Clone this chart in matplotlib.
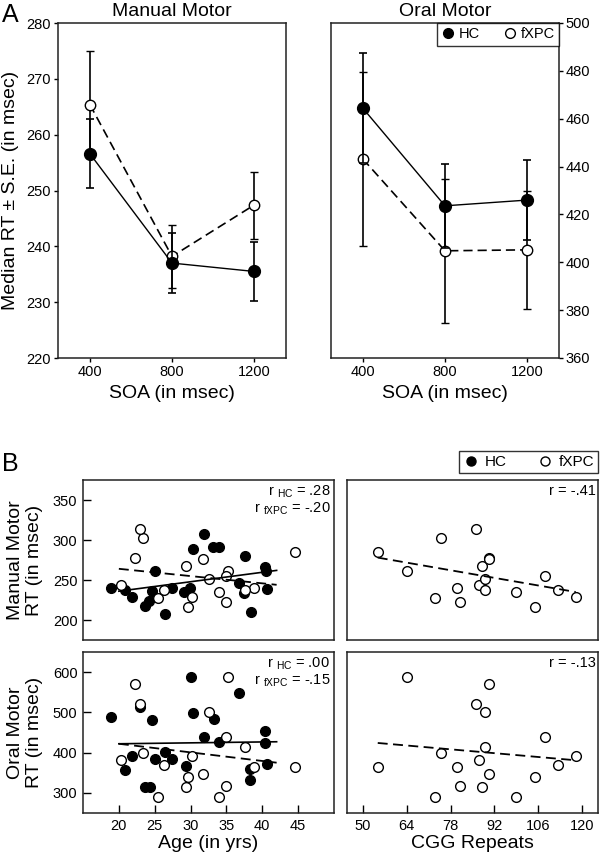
import matplotlib
matplotlib.use('Agg')
import matplotlib.pyplot as plt
from matplotlib.lines import Line2D
import numpy as np

plt.rcParams['font.family'] = ['Liberation Sans', 'DejaVu Sans']
plt.rcParams['mathtext.fontset'] = 'custom'
plt.rcParams['mathtext.rm'] = 'Liberation Sans'
plt.rcParams['mathtext.it'] = 'Liberation Sans:italic'
plt.rcParams['mathtext.bf'] = 'Liberation Sans:bold'
plt.rcParams['axes.unicode_minus'] = False

# ---------------- Panel A data ----------------
soa = [400, 800, 1200]
manual_hc = [256.6, 237.0, 235.5]
manual_hc_se = [6.2, 5.4, 5.3]
manual_fx = [265.4, 238.2, 247.4]
manual_fx_se = [9.6, 5.6, 6.0]
oral_hc = [464.4, 423.6, 426.0]
oral_hc_se = [23.0, 17.5, 16.8]
oral_fx = [443.2, 404.8, 405.2]
oral_fx_se = [36.2, 30.0, 24.7]

# ---------------- Panel B data ----------------
# fXPC subjects
fx_age = [44.6, 35.2, 25.5, 23.4, 38.8, 35.0, 23.0, 20.3, 29.3, 32.5, 37.6, 22.3, 31.7, 33.9, 29.7, 34.9, 26.3, 30.2]
fx_cgg = [54.8, 64.0, 73.0, 75.1, 80.1, 81.0, 86.0, 87.0, 87.9, 89.1, 89.1, 90.1, 90.1, 99.0, 105.0, 108.1, 112.1, 117.9]
fx_manual = [285, 261, 228, 302, 240, 222, 314, 244, 268, 251, 238, 278, 276, 235, 216, 255, 237, 229]
fx_oral = [365, 588, 289, 399, 364, 318, 521, 381, 315, 502, 415, 570, 348, 289, 339, 438, 370, 392]

# HC subjects
hc_age_manual = [18.85, 20.8, 21.9, 23.7, 24.2, 24.6, 25.1, 26.4, 27.4, 29.1, 29.9, 30.3, 31.9, 33.1, 34.0,
                 36.7, 37.5, 37.6, 38.4, 40.4, 40.5, 40.7]
hc_manual = [240, 237.5, 228.5, 218, 224, 236, 261, 207, 239.5, 235, 240, 289, 307, 291, 291,
             246.5, 234, 280, 210, 266, 261, 239]
hc_age_oral = [18.85, 20.8, 21.9, 22.9, 23.7, 24.4, 24.6, 25.1, 26.5, 27.4, 29.3, 30.0, 30.3, 31.9, 33.2,
               33.9, 36.7, 38.3, 38.3, 40.4, 40.4, 40.7]
hc_oral = [487.5, 357.5, 392.5, 514, 314, 314, 481, 385, 401.7, 383, 368, 589, 499, 439, 484,
           426.7, 549, 360, 333, 454, 425, 372.5]

# regression lines (end values)
fit_age = [20, 42]
fit_hc_manual = [236, 262]
fit_fx_manual = [264, 244]
fit_hc_oral = [422, 427]
fit_fx_oral = [422, 375]
fit_cgg = [54.8, 117.9]
fit_cgg_manual = [278, 235]
fit_cgg_oral = [424, 381]

r_text_manual = ['.28', '-.20']
r_text_oral = ['.00', '-.15']
r_cgg_manual = '-.41'
r_cgg_oral = '-.13'

age_ticks = [20, 25, 30, 35, 40, 45]
cgg_ticks = [50, 64, 78, 92, 106, 120]

# ---------------- Figure ----------------
W, H = 600, 855
fig = plt.figure(figsize=(W / 100, H / 100), dpi=100)


def add_ax(l, t, r, b):
    return fig.add_axes([l / W, 1 - b / H, (r - l) / W, (b - t) / H])


SPINE = '#222222'
DASH = (0, (5.5, 3))


def style_spines(ax):
    for s in ax.spines.values():
        s.set_color(SPINE)
        s.set_linewidth(1.1)


axA1 = add_ax(58, 23, 286, 358)
axA2 = add_ax(331, 23, 559, 358)
axB1 = add_ax(83, 480, 334, 640)
axB2 = add_ax(347, 480, 598, 640)
axB3 = add_ax(83, 652, 334, 813)
axB4 = add_ax(347, 652, 598, 813)


def panelA(ax, hc, hc_se, fx, fx_se, ylim, yticks):
    ax.errorbar(soa, fx, yerr=fx_se, color='k', lw=1.2, ls=DASH, marker='o', ms=7.5,
                mfc='white', mec='k', mew=1.0, capsize=3, elinewidth=1.2, capthick=1.2, zorder=2)
    ax.errorbar(soa, hc, yerr=hc_se, color='k', lw=1.0, ls='-', marker='o', ms=8.5,
                mfc='k', mec='k', capsize=3, elinewidth=1.2, capthick=1.2, zorder=3)
    ax.set_xlim(245, 1355)
    ax.set_ylim(*ylim)
    ax.set_xticks(soa)
    ax.set_yticks(yticks)
    ax.tick_params(direction='out', length=3, width=1, labelsize=10.5, colors='k', pad=2)
    ax.set_xlabel('SOA (in msec)', fontsize=14, labelpad=4)
    style_spines(ax)


panelA(axA1, manual_hc, manual_hc_se, manual_fx, manual_fx_se, (220, 280), range(220, 281, 10))
axA1.set_title('Manual Motor', fontsize=14, pad=5)
axA1.set_ylabel('Median RT \u00b1 S.E. (in msec)', fontsize=14)
axA1.yaxis.set_label_coords(-0.17, 0.5)

panelA(axA2, oral_hc, oral_hc_se, oral_fx, oral_fx_se, (360, 500), range(360, 501, 20))
axA2.set_title('Oral Motor', fontsize=14, pad=5)
axA2.yaxis.tick_right()

hA = [Line2D([], [], marker='o', color='k', ms=7, ls='none'),
      Line2D([], [], marker='o', mfc='white', mec='k', ms=7, ls='none', mew=1.0)]
legA = axA2.legend(hA, ['HC', 'fXPC'], loc='upper right', ncol=2, frameon=True, fancybox=False,
                   edgecolor='k', borderaxespad=0, fontsize=10.5, handletextpad=0.2,
                   columnspacing=1.6, handlelength=1.0, borderpad=0.3)
legA.get_frame().set_linewidth(1.0)


# ---------------- Panel B ----------------
def scatter(ax, x_hc, y_hc, x_fx, y_fx):
    if x_hc is not None:
        ax.plot(x_hc, y_hc, 'o', ms=7, mfc='k', mec='k', zorder=2)
    ax.plot(x_fx, y_fx, 'o', ms=7, mfc='white', mec='k', mew=1.0, zorder=2.5)


def styleB(ax, xlim, ylim):
    ax.set_xlim(*xlim)
    ax.set_ylim(*ylim)
    ax.tick_params(direction='in', length=6, width=1, labelsize=10.5, colors='k', pad=4)
    style_spines(ax)


# top-left
scatter(axB1, hc_age_manual, hc_manual, fx_age, fx_manual)
axB1.plot(fit_age, fit_hc_manual, '-', color='k', lw=1.2, zorder=3)
axB1.plot(fit_age, fit_fx_manual, color='k', lw=1.3, ls=DASH, zorder=3)
styleB(axB1, (15, 50), (175, 375))
axB1.set_yticks([200, 250, 300, 350])
axB1.set_xticks(age_ticks)
axB1.tick_params(bottom=False, labelbottom=False)
axB1.set_ylabel('Manual Motor\nRT (in msec)', fontsize=14, linespacing=1.15)
axB1.yaxis.set_label_coords(-0.16, 0.5)
axB1.text(0.985, 0.975, r'r $_{\rm HC}$ = ' + r_text_manual[0], transform=axB1.transAxes,
          ha='right', va='top', fontsize=10.5)
axB1.text(0.985, 0.87, r'r $_{\rm fXPC}$ = ' + r_text_manual[1], transform=axB1.transAxes,
          ha='right', va='top', fontsize=10.5)

# top-right
scatter(axB2, None, None, fx_cgg, fx_manual)
axB2.plot(fit_cgg, fit_cgg_manual, color='k', lw=1.3, ls=DASH, zorder=3)
styleB(axB2, (45, 125), (175, 375))
axB2.tick_params(bottom=False, labelbottom=False, left=False, labelleft=False)
axB2.text(0.99, 0.975, 'r = ' + r_cgg_manual, transform=axB2.transAxes, ha='right', va='top', fontsize=10.5)

# bottom-left
scatter(axB3, hc_age_oral, hc_oral, fx_age, fx_oral)
axB3.plot(fit_age, fit_hc_oral, '-', color='k', lw=1.2, zorder=3)
axB3.plot(fit_age, fit_fx_oral, color='k', lw=1.3, ls=DASH, zorder=3)
styleB(axB3, (15, 50), (250, 650))
axB3.set_yticks([300, 400, 500, 600])
axB3.set_xticks(age_ticks)
axB3.set_ylabel('Oral Motor\nRT (in msec)', fontsize=14, linespacing=1.15)
axB3.yaxis.set_label_coords(-0.16, 0.5)
axB3.set_xlabel('Age (in yrs)', fontsize=14, labelpad=2)
axB3.text(0.985, 0.975, r'r $_{\rm HC}$ = ' + r_text_oral[0], transform=axB3.transAxes,
          ha='right', va='top', fontsize=10.5)
axB3.text(0.985, 0.87, r'r $_{\rm fXPC}$ = ' + r_text_oral[1], transform=axB3.transAxes,
          ha='right', va='top', fontsize=10.5)

# bottom-right
scatter(axB4, None, None, fx_cgg, fx_oral)
axB4.plot(fit_cgg, fit_cgg_oral, color='k', lw=1.3, ls=DASH, zorder=3)
styleB(axB4, (45, 125), (250, 650))
axB4.set_xticks(cgg_ticks)
axB4.tick_params(left=False, labelleft=False)
axB4.set_xlabel('CGG Repeats', fontsize=14, labelpad=2)
axB4.text(0.99, 0.975, 'r = ' + r_cgg_oral, transform=axB4.transAxes, ha='right', va='top', fontsize=10.5)

hB = [Line2D([], [], marker='o', color='k', ms=6.5, ls='none'),
      Line2D([], [], marker='o', mfc='white', mec='k', ms=6.5, ls='none', mew=1.0)]
legB = axB2.legend(hB, ['HC', 'fXPC'], loc='lower right', bbox_to_anchor=(1.0, 1.0 + 7 / 160),
                   ncol=2, frameon=True, fancybox=False, edgecolor='k', borderaxespad=0,
                   fontsize=11, handletextpad=0.4, columnspacing=2.0, handlelength=1.0, borderpad=0.25)
legB.get_frame().set_linewidth(1.0)

fig.text(2 / W, 1 - 3 / H, 'A', fontsize=18, ha='left', va='top')
fig.text(2 / W, 1 - 452 / H, 'B', fontsize=18, ha='left', va='top')

fig.savefig('out.png', dpi=100)
